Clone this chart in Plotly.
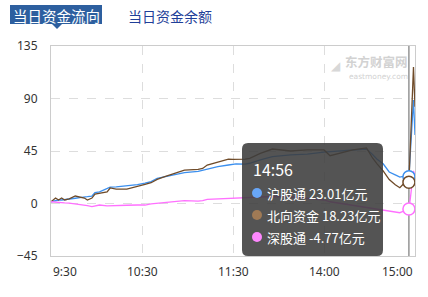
import plotly.graph_objects as go

# ---------------- data ----------------
minutes = [0, 3, 5, 7, 9, 12, 16, 19, 22, 24, 27, 29, 32, 37, 39, 43, 50, 57, 62, 66,
           70, 75, 82, 88, 97, 100, 103, 110, 117, 120, 122, 128, 131, 138, 146, 158,
           169, 180, 184, 190, 199, 208, 212, 215, 219, 223, 227, 230, 233, 236, 237,
           238, 239, 240]

north = [1.5, 4.7, 3.0, 4.7, 3.0, 3.9, 6.4, 5.8, 4.7, 3.0, 4.7, 8.1, 9.0, 10.0, 13.3, 12.4,
         12.4, 14.4, 16.4, 17.8, 20.7, 23.0, 26.4, 28.7, 29.3, 30.0, 33.0, 35.3, 38.1, 37.8,
         37.8, 38.1, 38.7, 43.0, 46.7, 45.0, 45.9, 45.9, 41.0, 43.0, 45.9, 47.6, 39.0, 34.0,
         28.0, 20.5, 16.0, 13.5, 17.6, 18.23, 50.0, 88.0, 117.0, 83.0]

sh = [1.5, 2.5, 3.0, 3.0, 3.2, 3.9, 4.5, 5.0, 5.8, 5.8, 6.4, 9.3, 10.0, 12.5, 14.0, 14.3,
      15.0, 16.2, 17.5, 18.7, 21.6, 23.0, 25.0, 26.5, 27.6, 28.5, 29.3, 31.6, 33.0, 33.9,
      33.9, 33.8, 34.5, 37.3, 40.1, 41.6, 42.4, 44.0, 44.4, 45.2, 45.9, 46.7, 42.0, 38.0,
      34.0, 27.0, 24.5, 22.7, 23.5, 23.01, 45.0, 68.0, 88.7, 58.7]

sz = [1.5, 1.0, 0.8, 0.7, 0.5, 0.4, -0.3, -0.6, -1.3, -1.8, -2.7, -2.2, -1.3, -2.1, -2.1,
      -2.0, -1.5, -1.3, -1.3, -0.4, 0.0, 0.7, 1.5, 2.4, 2.1, 2.5, 3.6, 4.0, 4.5, 4.3, 4.3,
      4.5, 4.8, 5.5, 6.0, 5.8, 4.5, 3.0, 1.5, 0.2, -1.8, -3.5, -4.5, -5.2, -5.6, -6.5,
      -7.5, -7.9, -6.2, -4.77, 5.0, 18.0, 28.0, 24.0]

x_tick_pos = [0, 60, 120, 180, 240]
x_tick_text = ["9:30", "10:30", "11:30", "14:00", "15:00"]
y_ticks = [-45, 0, 45, 90, 135]

hover_minute = 236
hover_label = "14:56"
series_names = ["沪股通", "北向资金", "深股通"]
series_vals = [sh, north, sz]
line_colors = ["#3b8fee", "#6f4b29", "#ff70ff"]
dot_colors = ["#68a6f7", "#a07a55", "#ff88ff"]

tabs = ["当日资金流向", "当日资金余额"]

# ---------------- figure ----------------
W, H = 428, 297
L, R, T, B = 51, 415, 46, 256
CJK = "Noto Sans CJK SC, Noto Sans, sans-serif"

fig = go.Figure()

for name, vals, col in zip(series_names, series_vals, line_colors):
    fig.add_trace(go.Scatter(x=minutes, y=vals, mode="lines", name=name,
                             line=dict(color=col, width=1.3), hoverinfo="skip"))

hi = minutes.index(hover_minute)
for vals, col in zip(series_vals, line_colors):
    fig.add_trace(go.Scatter(x=[hover_minute], y=[vals[hi]], mode="markers",
                             marker=dict(size=12, color="white",
                                         line=dict(color=col, width=1.5)),
                             hoverinfo="skip", showlegend=False, cliponaxis=False))

def px2paper_x(px):
    return (px - L) / (R - L)

def px2paper_y(py):
    return (B - py) / (B - T)

shapes = []
# crosshair
shapes.append(dict(type="line", xref="x", yref="paper", x0=hover_minute, x1=hover_minute,
                   y0=0, y1=1, line=dict(color="#606060", width=1), layer="below"))

# tooltip rounded rectangle
x0p, x1p, y0p, y1p, r = 242, 383, 143, 256, 6
def P(px, py):
    return f"{px2paper_x(px):.5f},{px2paper_y(py):.5f}"
path = (f"M {P(x0p + r, y0p)} L {P(x1p - r, y0p)} Q {P(x1p, y0p)} {P(x1p, y0p + r)} "
        f"L {P(x1p, y1p - r)} Q {P(x1p, y1p)} {P(x1p - r, y1p)} "
        f"L {P(x0p + r, y1p)} Q {P(x0p, y1p)} {P(x0p, y1p - r)} "
        f"L {P(x0p, y0p + r)} Q {P(x0p, y0p)} {P(x0p + r, y0p)} Z")
shapes.append(dict(type="path", xref="paper", yref="paper", path=path,
                   fillcolor="rgba(60,60,60,0.88)", line=dict(width=0), layer="above"))

annotations = []
annotations.append(dict(xref="paper", yref="paper", x=px2paper_x(251), y=px2paper_y(169),
                        xanchor="left", yanchor="middle", showarrow=False,
                        text=hover_label, font=dict(family=CJK, size=16, color="white")))
row_y = [193, 215, 237]
for name, vals, dc, ry in zip(series_names, series_vals, dot_colors, row_y):
    cx = px2paper_x(257)
    cy = px2paper_y(ry)
    shapes.append(dict(type="circle", xref="paper", yref="paper", xsizemode="pixel",
                       ysizemode="pixel", xanchor=cx, yanchor=cy, x0=-5, x1=5, y0=-5, y1=5,
                       fillcolor=dc, line=dict(width=0), layer="above"))
    annotations.append(dict(xref="paper", yref="paper", x=px2paper_x(265), y=cy,
                            xanchor="left", yanchor="middle", showarrow=False,
                            text=f"{name} {vals[hi]:.2f}亿元",
                            font=dict(family=CJK, size=13, color="white")))

# x tick labels
for pos, txt in zip(x_tick_pos, x_tick_text):
    anchor = "left" if pos == x_tick_pos[0] else ("right" if pos == x_tick_pos[-1] else "center")
    annotations.append(dict(xref="x", yref="paper", x=pos, y=px2paper_y(271),
                            xanchor=anchor, yanchor="middle", showarrow=False, text=txt,
                            font=dict(family="Noto Sans, sans-serif", size=12, color="#333333")))

# header tabs
shapes.append(dict(type="rect", xref="paper", yref="paper",
                   x0=px2paper_x(10), x1=px2paper_x(102), y0=px2paper_y(24), y1=px2paper_y(5),
                   fillcolor="#2d5f9f", line=dict(width=0)))
shapes.append(dict(type="path", xref="paper", yref="paper",
                   path=f"M {P(52, 24)} L {P(62, 24)} L {P(57, 29)} Z",
                   fillcolor="#2d5f9f", line=dict(width=0)))
annotations.append(dict(xref="paper", yref="paper", x=px2paper_x(56), y=px2paper_y(15),
                        xanchor="center", yanchor="middle", showarrow=False, text=tabs[0],
                        font=dict(family=CJK, size=14.5, color="white")))
annotations.append(dict(xref="paper", yref="paper", x=px2paper_x(170), y=px2paper_y(16),
                        xanchor="center", yanchor="middle", showarrow=False, text=tabs[1],
                        font=dict(family=CJK, size=14, color="#1f3f99")))

# watermark
annotations.append(dict(xref="paper", yref="paper", x=px2paper_x(410), y=px2paper_y(62),
                        xanchor="right", yanchor="middle", showarrow=False, text="<b>东方财富网</b>",
                        font=dict(family=CJK, size=12.5, color="#d2d2d2")))
annotations.append(dict(xref="paper", yref="paper", x=px2paper_x(410), y=px2paper_y(76),
                        xanchor="right", yanchor="middle", showarrow=False, text="eastmoney.com",
                        font=dict(family="DejaVu Sans", size=7.5, color="#d2d2d2")))
annotations.append(dict(xref="paper", yref="paper", x=px2paper_x(343), y=px2paper_y(66),
                        xanchor="right", yanchor="middle", showarrow=False, text="◢",
                        font=dict(family="DejaVu Sans", size=12, color="#d8d8d8")))

fig.update_layout(
    width=W, height=H,
    margin=dict(l=L, r=W - R, t=T, b=H - B, pad=0),
    paper_bgcolor="white", plot_bgcolor="white",
    showlegend=False, hovermode=False,
    shapes=shapes, annotations=annotations,
    xaxis=dict(range=[0, 240], showticklabels=False, ticks="", tickvals=x_tick_pos[1:-1],
               showgrid=True, gridcolor="#dddddd", griddash="dash", gridwidth=1,
               zeroline=False, showline=True, linecolor="#cccccc", linewidth=1, mirror=True,
               fixedrange=True),
    yaxis=dict(range=[-45, 135], tickvals=y_ticks, ticks="", ticklabelstandoff=10,
               tickfont=dict(family="Noto Sans, sans-serif", size=12, color="#333333"),
               showgrid=True, gridcolor="#dddddd", griddash="dash", gridwidth=1,
               zeroline=False, showline=True, linecolor="#cccccc", linewidth=1, mirror=True,
               fixedrange=True),
)

fig.write_html("out.html")
